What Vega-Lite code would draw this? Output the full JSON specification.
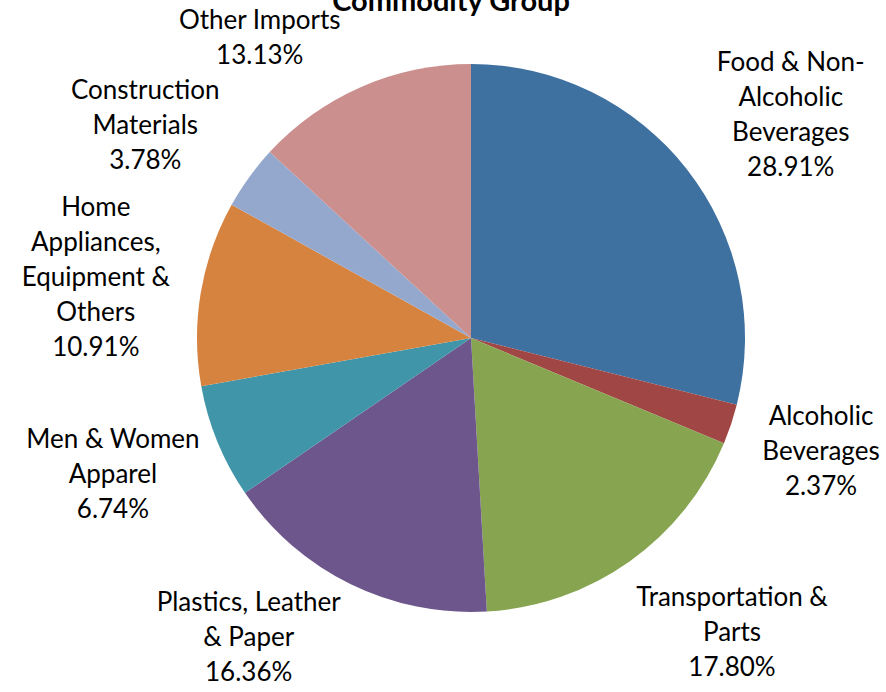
{
  "$schema": "https://vega.github.io/schema/vega-lite/v6.json",
  "width": 880,
  "height": 676,
  "autosize": {"type": "none"},
  "padding": {"left": 31, "top": 0, "right": 0, "bottom": 16},
  "background": "white",
  "view": {"stroke": null},
  "title": {
    "text": "Commodity Group",
    "font": "Lato",
    "fontSize": 29,
    "fontWeight": "bold",
    "color": "#000000",
    "anchor": "middle",
    "dx": -20,
    "offset": -17
  },
  "data": {
    "values": [
      {"idx": 1, "category": "Food & Non-Alcoholic Beverages", "label": "Food & Non-\nAlcoholic\nBeverages\n28.91%", "pct": 28.91},
      {"idx": 2, "category": "Alcoholic Beverages", "label": "Alcoholic\nBeverages\n2.37%", "pct": 2.37},
      {"idx": 3, "category": "Transportation & Parts", "label": "Transportation &\nParts\n17.80%", "pct": 17.80},
      {"idx": 4, "category": "Plastics, Leather & Paper", "label": "Plastics, Leather\n& Paper\n16.36%", "pct": 16.36},
      {"idx": 5, "category": "Men & Women Apparel", "label": "Men & Women\nApparel\n6.74%", "pct": 6.74},
      {"idx": 6, "category": "Home Appliances, Equipment & Others", "label": "Home\nAppliances,\nEquipment &\nOthers\n10.91%", "pct": 10.91},
      {"idx": 7, "category": "Construction Materials", "label": "Construction\nMaterials\n3.78%", "pct": 3.78},
      {"idx": 8, "category": "Other Imports", "label": "Other Imports\n13.13%", "pct": 13.13}
    ]
  },
  "encoding": {
    "theta": {"field": "pct", "type": "quantitative", "stack": true},
    "order": {"field": "idx", "type": "quantitative"}
  },
  "layer": [
    {
      "mark": {"type": "arc", "outerRadius": 274, "stroke": null},
      "encoding": {
        "color": {
          "field": "category",
          "type": "nominal",
          "legend": null,
          "scale": {
            "domain": ["Food & Non-Alcoholic Beverages", "Alcoholic Beverages", "Transportation & Parts", "Plastics, Leather & Paper", "Men & Women Apparel", "Home Appliances, Equipment & Others", "Construction Materials", "Other Imports"],
            "range": ["#3E70A0", "#A04644", "#87A450", "#6C568C", "#4096A8", "#D68340", "#94A8CE", "#CB8F8E"]
          }
        }
      }
    },
    {
      "mark": {
        "type": "text",
        "font": "Lato",
        "fontSize": 26,
        "color": "#000000",
        "lineBreak": "\n",
        "lineHeight": 35,
        "align": "center",
        "baseline": "middle",
        "radius": {"expr": "min(362, 300/abs(cos(PI*(datum.pct_start+datum.pct_end)/100)))"},
        "dx": {"expr": "clamp(280*sin(PI*(datum.pct_start+datum.pct_end)/100) + (sin(PI*(datum.pct_start+datum.pct_end)/100) >= 0 ? 99 : -99), -380, 350) - min(362, 300/abs(cos(PI*(datum.pct_start+datum.pct_end)/100)))*sin(PI*(datum.pct_start+datum.pct_end)/100)"},
        "dy": {"expr": "-17.5*(length(split(datum.label, '\\n'))-1)"}
      },
      "encoding": {
        "text": {"field": "label", "type": "nominal"}
      }
    }
  ]
}
